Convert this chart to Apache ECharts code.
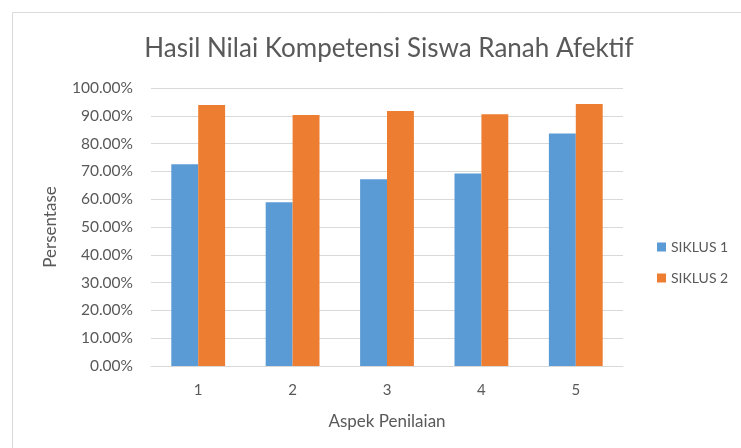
<!DOCTYPE html>
<html><head><meta charset="utf-8">
<script src="https://cdn.jsdelivr.net/npm/echarts@6/dist/echarts.min.js"></script>
<style>html,body{margin:0;padding:0;background:#fff}#c{width:741px;height:448px}</style>
</head><body><div id="c"></div>
<script>
const categories = ['1', '2', '3', '4', '5'];
const siklus1 = [72.6, 58.9, 67.2, 69.2, 83.6];
const siklus2 = [93.9, 90.3, 91.7, 90.6, 94.2];
const seriesNames = ['SIKLUS 1', 'SIKLUS 2'];
const FONT = 'Lato';
const chart = echarts.init(document.getElementById('c'), null, {renderer: 'canvas'});
chart.setOption({
  backgroundColor: '#fff',
  animation: false,
  textStyle: {fontFamily: FONT},
  graphic: [{type: 'rect', shape: {x: 12.5, y: 12.5, width: 800, height: 500}, style: {fill: 'none', stroke: '#d9d9d9', lineWidth: 1}, silent: true}],
  title: {text: 'Hasil Nilai Kompetensi Siswa Ranah Afektif', left: 384, top: 31, textAlign: 'center',
    textStyle: {fontFamily: FONT, fontSize: 26, fontWeight: 'normal', color: '#595959'}},
  legend: {orient: 'vertical', left: 652, top: 235, itemWidth: 9, itemHeight: 9, itemGap: 17, icon: 'rect',
    textStyle: {fontFamily: FONT, fontSize: 14, color: '#595959'}, data: seriesNames},
  grid: {left: 151, right: 118, top: 88, bottom: 82, containLabel: false},
  xAxis: {type: 'category', data: categories, name: 'Aspek Penilaian', nameLocation: 'middle', nameGap: 47,
    nameTextStyle: {fontFamily: FONT, fontSize: 17, color: '#595959'},
    axisLine: {lineStyle: {color: '#d9d9d9'}}, axisTick: {show: false},
    axisLabel: {fontFamily: FONT, fontSize: 15, color: '#595959', margin: 17}},
  yAxis: {type: 'value', min: 0, max: 100, interval: 10, name: 'Persentase', nameLocation: 'middle', nameGap: 92,
    nameTextStyle: {fontFamily: FONT, fontSize: 17, color: '#595959'},
    axisLine: {show: false}, axisTick: {show: false},
    axisLabel: {fontFamily: FONT, fontSize: 15.5, color: '#595959', margin: 18, formatter: v => v.toFixed(2) + '%'},
    splitLine: {lineStyle: {color: '#d9d9d9'}}},
  series: [
    {name: seriesNames[0], type: 'bar', data: siklus1, barGap: '0%', barCategoryGap: '43%', itemStyle: {color: '#5b9bd5'}},
    {name: seriesNames[1], type: 'bar', data: siklus2, barGap: '0%', barCategoryGap: '43%', itemStyle: {color: '#ed7d31'}}
  ]
});
</script></body></html>
